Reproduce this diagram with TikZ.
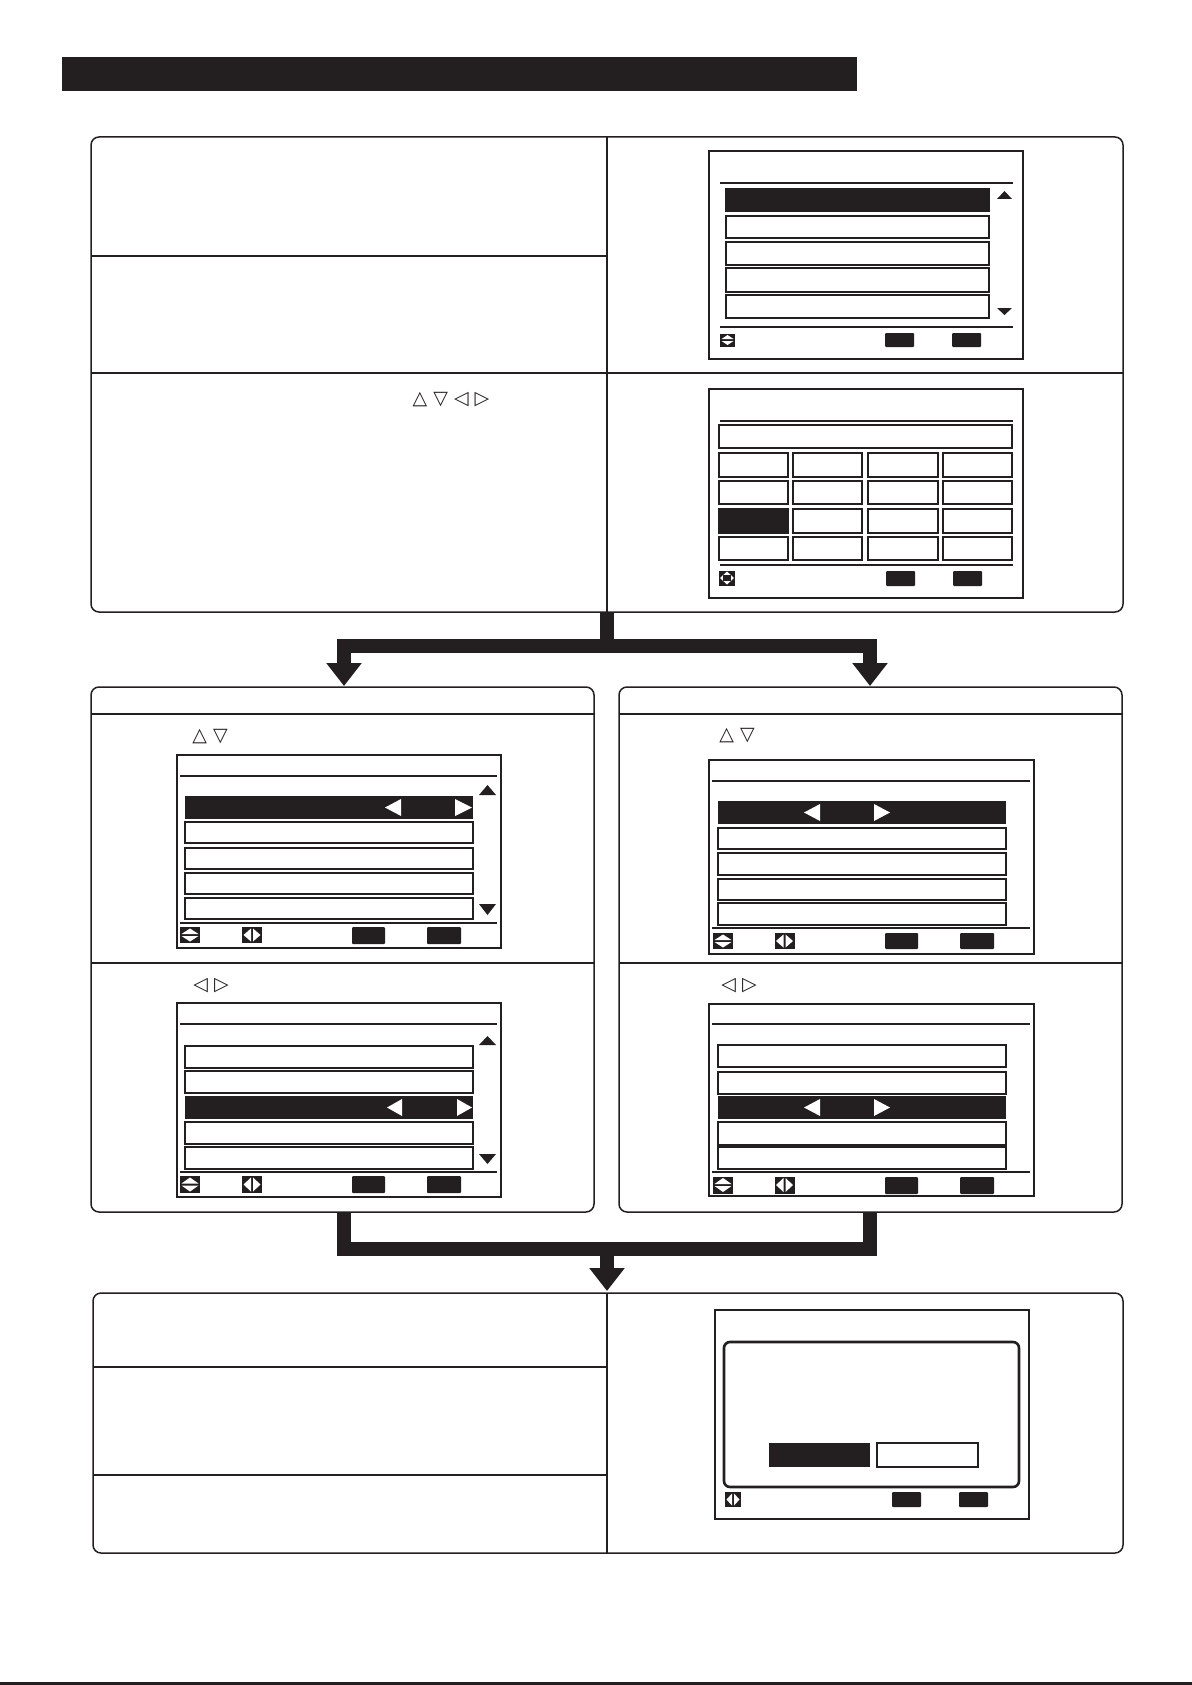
\documentclass[tikz,border=0pt]{standalone}
\usepackage{fontspec}
\newfontfamily\symfont{DejaVu Sans}
\usetikzlibrary{arrows.meta}
\definecolor{ink}{RGB}{35,31,32}
\newcommand\udicon[4]{%
 \fill[ink] ({#1-#3},{#2-#4}) rectangle ({#1+#3},{#2+#4});
 \fill[white] (#1,{#2-#4+1.5}) -- ({#1+#3-1.5},{#2-1}) -- ({#1-#3+1.5},{#2-1}) -- cycle;
 \fill[white] (#1,{#2+#4-1.5}) -- ({#1+#3-1.5},{#2+1}) -- ({#1-#3+1.5},{#2+1}) -- cycle;}
\newcommand\lricon[4]{%
 \fill[ink] ({#1-#3},{#2-#4}) rectangle ({#1+#3},{#2+#4});
 \fill[white] ({#1-#3+1.5},#2) -- ({#1-1},{#2-#4+1.5}) -- ({#1-1},{#2+#4-1.5}) -- cycle;
 \fill[white] ({#1+#3-1.5},#2) -- ({#1+1},{#2-#4+1.5}) -- ({#1+1},{#2+#4-1.5}) -- cycle;}
\newcommand\fouricon[4]{%
 \fill[ink] ({#1-#3},{#2-#4}) rectangle ({#1+#3},{#2+#4});
 \fill[white] (#1,{#2-#4+1}) -- ({#1+#3-1},#2) -- (#1,{#2+#4-1}) -- ({#1-#3+1},#2) -- cycle;
 \fill[ink] ({#1-#3*0.45},{#2-#4*0.45}) rectangle ({#1+#3*0.45},{#2+#4*0.45});}
\newcommand\seltri[6]{%
 \fill[white] (#3,{(#1+#2)/2}) -- (#4,{#1+3}) -- (#4,{#2-3}) -- cycle;
 \fill[white] (#6,{(#1+#2)/2}) -- (#5,{#1+3}) -- (#5,{#2-3}) -- cycle;}
\begin{document}
\begin{tikzpicture}[x=0.5pt,y=-0.5pt,
  panel/.style={draw=ink,line width=0.75pt,rounded corners=4pt},
  rule/.style={draw=ink,line width=0.75pt},
  scr/.style={draw=ink,line width=1pt},
  hrule/.style={draw=ink,line width=1.2pt},
  thinrule/.style={draw=ink,line width=0.55pt},
  cell/.style={draw=ink,line width=0.9pt},
  btn/.style={fill=ink,rounded corners=0.5pt},
  flow/.style={draw=ink,line width=7pt,line join=miter},
  sym/.style={font=\symfont\fontsize{9.5}{10}\selectfont,text=ink,inner sep=0pt}]
\useasboundingbox (0,0) rectangle (1192,1685);
\fill[white] (0,0) rectangle (1192,1685);

% title bar
\fill[ink] (62,57) rectangle (857,91);

% ---------------- top panel
\draw[panel] (91,137) rectangle (1123,612);
\draw[rule] (607,137) -- (607,612);
\draw[rule] (91,256) -- (607,256);
\draw[rule] (91,373) -- (1123,373);
\node[sym] (keys1) at (451,400) {△ ▽ ◁ ▷};

% screen 1 (list)
\draw[scr] (709,151) rectangle (1023,359);
\draw[hrule] (720,183) -- (1013,183);
\fill[ink] (725,188) rectangle (990,212);
\foreach \a/\b in {216/238,242/265,268/292,295/318}
  \draw[cell] (726,\a) rectangle (989,\b);
\fill[ink] (997,199) -- (1012,199) -- (1004.5,191) -- cycle;
\fill[ink] (997,308) -- (1012,308) -- (1004.5,315) -- cycle;
\draw[hrule] (720,327) -- (1013,327);
\udicon{727.5}{340}{7.5}{6.5}
\fill[btn] (885,333) rectangle (914,347);
\fill[btn] (952,333) rectangle (981,347);

% screen 2 (grid)
\draw[scr] (709,389) rectangle (1023,598);
\draw[hrule] (720,421) -- (1013,421);
\draw[cell] (719,425) rectangle (1012,448);
\foreach \xa/\xb in {719/788,793/862,868/938,943/1012}
  \foreach \ya/\yb in {453/477,481/504,509/533,537/560}
    \draw[cell] (\xa,\ya) rectangle (\xb,\yb);
\fill[ink] (719,509) rectangle (788,533);
\draw[hrule] (720,565) -- (1013,565);
\fouricon{727}{578}{8}{7.5}
\fill[btn] (886,571) rectangle (915,586);
\fill[btn] (953,571) rectangle (982,586);

% ---------------- arrows top -> middle
\coordinate (topout) at (607,612);
\coordinate (split) at (607,646);
\coordinate (leftin) at (344,686);
\coordinate (rightin) at (870,686);
\draw[flow] (topout) -- (split);
\draw[flow,-{Triangle[width=17pt,length=11.5pt]}] (split) -| (leftin);
\draw[flow,-{Triangle[width=17pt,length=11.5pt]}] (split) -| (rightin);

% ---------------- middle left panel
\draw[panel] (91,687) rectangle (594,1212);
\draw[rule] (91,714) -- (594,714);
\draw[rule] (91,963) -- (594,963);
\node[sym] (keys2) at (210,737) {△ ▽};
\node[sym] (keys3) at (211,986) {◁ ▷};

% LS1
\draw[scr] (177,755) rectangle (501,948);
\draw[hrule] (180,776) -- (497,776);
\fill[ink] (185,796) rectangle (473,819);
\seltri{796}{819}{385}{401}{455}{472}
\foreach \a/\b in {822/843,848/869,873/894,898/919}
  \draw[cell] (185,\a) rectangle (473,\b);
\fill[ink] (479,795) -- (496,795) -- (487.5,785) -- cycle;
\fill[ink] (479,904) -- (496,904) -- (487.5,915) -- cycle;
\draw[hrule] (180,923) -- (497,923);
\udicon{190}{935}{10}{8}
\lricon{252}{935}{10}{8}
\fill[btn] (352,927) rectangle (385,944);
\fill[btn] (427,927) rectangle (461,944);

% LS2
\draw[scr] (177,1003) rectangle (501,1197);
\draw[hrule] (180,1024) -- (497,1024);
\fill[ink] (479,1045) -- (496,1045) -- (487.5,1036) -- cycle;
\foreach \a/\b in {1046/1068,1071/1093,1122/1144,1147/1169}
  \draw[cell] (185,\a) rectangle (473,\b);
\fill[ink] (185,1096) rectangle (473,1119);
\seltri{1096}{1119}{387}{402}{457}{472}
\fill[ink] (479,1154) -- (496,1154) -- (487.5,1164) -- cycle;
\draw[thinrule] (180,1172) -- (497,1172);
\udicon{190}{1184.5}{10}{8.5}
\lricon{252}{1184.5}{10}{8.5}
\fill[btn] (352,1176) rectangle (385,1193);
\fill[btn] (427,1176) rectangle (461,1193);

% ---------------- middle right panel
\draw[panel] (619,687) rectangle (1122,1212);
\draw[rule] (619,714) -- (1122,714);
\draw[rule] (619,963) -- (1122,963);
\node[sym] (keys4) at (737,736) {△ ▽};
\node[sym] (keys5) at (739,986) {◁ ▷};

% RS1
\draw[scr] (709,760) rectangle (1034,954);
\draw[thinrule] (712,781) -- (1030,781);
\fill[ink] (718,801) rectangle (1006,824);
\seltri{801}{824}{804}{820}{874}{890}
\foreach \a/\b in {828/849,853/875,879/900,903/925}
  \draw[cell] (718,\a) rectangle (1006,\b);
\draw[hrule] (712,928) -- (1030,928);
\udicon{723}{941}{10}{8}
\lricon{784.5}{941}{10}{8}
\fill[btn] (885,933) rectangle (918,949);
\fill[btn] (960,933) rectangle (994,949);

% RS2
\draw[scr] (709,1004) rectangle (1034,1196);
\draw[thinrule] (712,1024) -- (1030,1024);
\foreach \a/\b in {1045/1067,1072/1094,1122/1145,1147/1169}
  \draw[cell] (718,\a) rectangle (1006,\b);
\fill[ink] (718,1096) rectangle (1006,1119);
\seltri{1096}{1119}{804}{820}{874}{890}
\draw[thinrule] (712,1172) -- (1030,1172);
\udicon{723}{1185}{10}{8.5}
\lricon{784.5}{1185}{10}{8.5}
\fill[btn] (885,1177) rectangle (918,1194);
\fill[btn] (960,1177) rectangle (994,1194);

% ---------------- arrows middle -> bottom
\coordinate (leftout) at (344,1212);
\coordinate (rightout) at (870,1212);
\coordinate (join) at (607,1249);
\coordinate (botin) at (607,1291);
\draw[flow] (leftout) |- (join);
\draw[flow] (rightout) |- (join);
\draw[flow,-{Triangle[width=17pt,length=11.5pt]}] (join) -- (botin);

% ---------------- bottom panel
\draw[panel] (93,1293) rectangle (1123,1553);
\draw[rule] (607,1293) -- (607,1553);
\draw[rule] (93,1367) -- (607,1367);
\draw[rule] (93,1475) -- (607,1475);

% bottom screen (dialog)
\draw[scr] (715,1310) rectangle (1029,1519);
\draw[ink,line width=1.3pt,rounded corners=3pt] (724,1342) rectangle (1019,1487);
\fill[ink] (769,1443) rectangle (870,1467);
\draw[cell] (877,1443) rectangle (978,1467);
\lricon{733}{1499.5}{8}{7.5}
\fill[btn] (892,1492) rectangle (921,1507);
\fill[btn] (959,1492) rectangle (988,1507);

% page foot rule
\fill[ink] (0,1682) rectangle (1192,1685);
\end{tikzpicture}
\end{document}
